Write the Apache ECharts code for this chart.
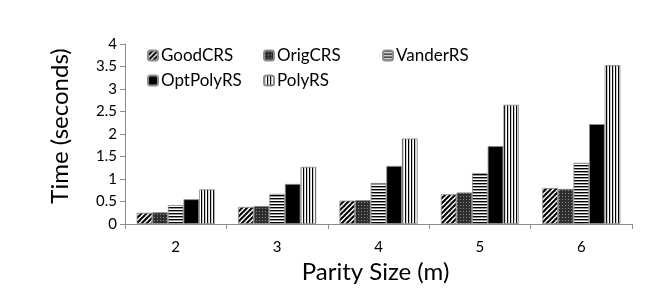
<!DOCTYPE html>
<html>
<head>
<meta charset="utf-8">
<script src="https://cdn.jsdelivr.net/npm/echarts@6/dist/echarts.min.js"></script>
<style>
html,body{margin:0;padding:0;background:#fff;}
#chart{width:648px;height:293px;}
</style>
</head>
<body>
<div id="chart"></div>
<script>
const categories = ['2', '3', '4', '5', '6'];
const seriesNames = ['GoodCRS', 'OrigCRS', 'VanderRS', 'OptPolyRS', 'PolyRS'];
const goodCRS = [0.25, 0.38, 0.52, 0.66, 0.80];
const origCRS = [0.26, 0.40, 0.53, 0.70, 0.78];
const vanderRS = [0.42, 0.67, 0.91, 1.13, 1.36];
const optPolyRS = [0.55, 0.89, 1.29, 1.73, 2.22];
const polyRS = [0.77, 1.27, 1.90, 2.65, 3.53];
const yMin = 0, yMax = 4, yInterval = 0.5;

function tile(w, h, draw) {
  const c = document.createElement('canvas');
  c.width = w; c.height = h;
  const ctx = c.getContext('2d');
  ctx.fillStyle = '#fff';
  ctx.fillRect(0, 0, w, h);
  draw(ctx, w, h);
  return { image: c, repeat: 'repeat' };
}
const patDiag = tile(5, 5, (ctx, w, h) => {
  ctx.strokeStyle = '#000';
  ctx.lineWidth = 2;
  for (let k = -1; k <= 1; k++) {
    ctx.beginPath();
    ctx.moveTo(k * w - 1, h + 1);
    ctx.lineTo(k * w + w + 1, -1);
    ctx.stroke();
  }
});
const patDark = tile(3, 3, (ctx) => {
  ctx.fillStyle = '#2e2e2e';
  ctx.fillRect(0, 0, 3, 3);
  ctx.fillStyle = '#8a8a8a';
  ctx.fillRect(1, 1, 1, 1);
});
const patHoriz = tile(4, 3, (ctx) => {
  ctx.fillStyle = '#000';
  ctx.fillRect(0, 0, 4, 1.4);
});
const patVert = tile(3, 4, (ctx) => {
  ctx.fillStyle = '#000';
  ctx.fillRect(0, 0, 1.2, 4);
});
const fills = [patDiag, patDark, patHoriz, '#000', patVert];
const values = [goodCRS, origCRS, vanderRS, optPolyRS, polyRS];

const legendPos = [
  { left: 147, top: 47 },
  { left: 263, top: 47 },
  { left: 382, top: 47 },
  { left: 147, top: 72 },
  { left: 263, top: 72 }
];

const chart = echarts.init(document.getElementById('chart'), null, { renderer: 'canvas' });
const font = 'Lato, "Open Sans", sans-serif';
chart.setOption({
  animation: false,
  backgroundColor: '#fff',
  textStyle: { fontFamily: font },
  grid: { left: 125, right: 16, top: 44, bottom: 69, containLabel: false },
  legend: seriesNames.map((n, i) => ({
    data: [n],
    left: legendPos[i].left,
    top: legendPos[i].top,
    padding: 0,
    itemWidth: 10,
    itemHeight: 10,
    itemGap: 3,
    textStyle: { fontSize: 17, color: '#000', fontFamily: font, padding: [0, 0, 0, -2] },
    selectedMode: false
  })),
  xAxis: {
    type: 'category',
    data: categories,
    name: 'Parity Size (m)',
    nameLocation: 'middle',
    nameGap: 24,
    nameTextStyle: { fontSize: 24, color: '#000', fontFamily: font, padding: [0, 6, 0, 0] },
    axisLine: { lineStyle: { color: '#8c8c8c', width: 1 } },
    axisTick: { show: true, length: 5, lineStyle: { color: '#8c8c8c' } },
    axisLabel: { fontSize: 15, color: '#000', margin: 16, fontFamily: font },
    splitLine: { show: false }
  },
  yAxis: {
    type: 'value',
    min: yMin, max: yMax, interval: yInterval,
    name: 'Time (seconds)',
    nameLocation: 'middle',
    nameGap: 53,
    nameTextStyle: { fontSize: 24, color: '#000', fontFamily: font, padding: [0, 0, 0, 16] },
    axisLine: { show: true, lineStyle: { color: '#8c8c8c', width: 1 } },
    axisTick: { show: true, length: 5, lineStyle: { color: '#8c8c8c' } },
    axisLabel: { fontSize: 15, color: '#000', margin: 8, fontFamily: font },
    splitLine: { show: false }
  },
  series: seriesNames.map((n, i) => ({
    name: n,
    type: 'bar',
    data: values[i],
    barGap: '0%',
    barCategoryGap: '23%',
    itemStyle: { color: fills[i], borderColor: '#8c8c8c', borderWidth: 0.8 }
  }))
});
</script>
</body>
</html>
